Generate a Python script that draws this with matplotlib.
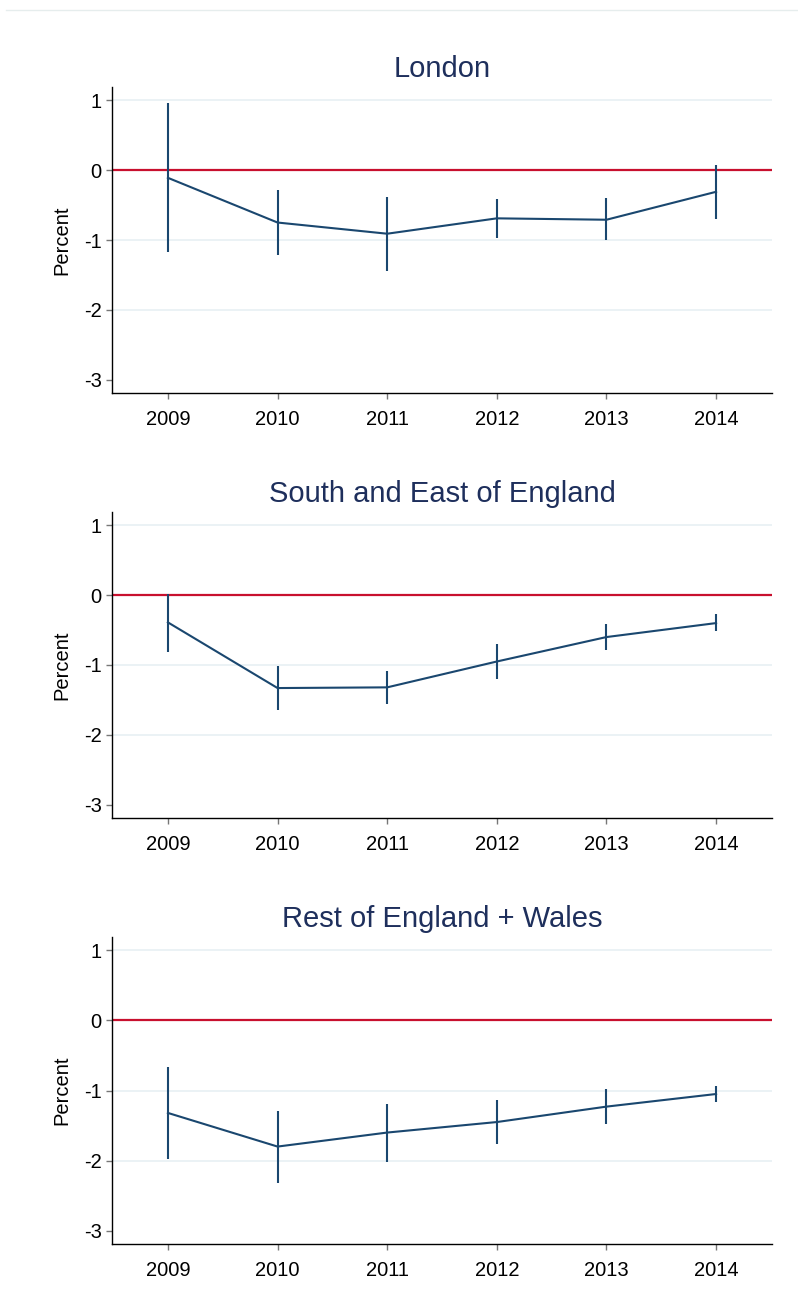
import matplotlib
matplotlib.use("Agg")
import matplotlib.pyplot as plt
from matplotlib.lines import Line2D

plt.rcParams['font.family'] = ['Liberation Sans', 'DejaVu Sans']

years = [2009, 2010, 2011, 2012, 2013, 2014]
regions = ["London", "South and East of England", "Rest of England + Wales"]

london_est = [-0.11, -0.75, -0.91, -0.69, -0.71, -0.31]
london_lo = [-1.17, -1.22, -1.44, -0.97, -1.00, -0.70]
london_hi = [0.96, -0.28, -0.38, -0.41, -0.40, 0.08]

southeast_est = [-0.39, -1.33, -1.32, -0.95, -0.60, -0.40]
southeast_lo = [-0.82, -1.65, -1.56, -1.20, -0.79, -0.52]
southeast_hi = [0.02, -1.02, -1.09, -0.70, -0.41, -0.27]

rest_est = [-1.32, -1.80, -1.60, -1.45, -1.23, -1.05]
rest_lo = [-1.98, -2.32, -2.02, -1.77, -1.48, -1.17]
rest_hi = [-0.67, -1.29, -1.19, -1.13, -0.98, -0.93]

y_ticks = [1, 0, -1, -2, -3]
grid_levels = [1, -1, -2]

series = [
    (london_est, london_lo, london_hi),
    (southeast_est, southeast_lo, southeast_hi),
    (rest_est, rest_lo, rest_hi),
]

W, H = 798, 1315
fig = plt.figure(figsize=(W / 100, H / 100), dpi=100)
fig.patch.set_facecolor("white")

navy = "#1a476f"
title_col = "#1e2f5c"
red = "#c8102e"
grid_col = "#e8f0f3"

# faint outer frame line at the top
fig.add_artist(Line2D([6 / W, 1], [1 - 10 / H, 1 - 10 / H], color="#e6eded", lw=1))

panel_px = [(87, 393), (512, 818), (937, 1244)]
left_px, right_px = 112, 772

for (top, bot), name, (est, lo, hi) in zip(panel_px, regions, series):
    ax = fig.add_axes([left_px / W, 1 - bot / H, (right_px - left_px) / W, (bot - top) / H])
    ax.set_xlim(2008.49, 2014.51)
    ax.set_ylim(-3.19, 1.19)
    for g in grid_levels:
        ax.axhline(g, color=grid_col, lw=1.2, zorder=0)
    ax.axhline(0, color=red, lw=1.6, zorder=1)
    ax.vlines(years, lo, hi, color=navy, lw=1.5, zorder=2)
    ax.plot(years, est, color=navy, lw=1.5, zorder=3)

    ax.set_xticks(years)
    ax.set_xticklabels([str(y) for y in years])
    ax.set_yticks(y_ticks)
    ax.set_yticklabels([str(t) for t in y_ticks])
    ax.tick_params(axis="both", labelsize=14.5, colors="#777777", labelcolor="black",
                   length=4.5, width=1, direction="out")
    ax.tick_params(axis="y", pad=3)
    ax.tick_params(axis="x", pad=8)
    for s in ["top", "right"]:
        ax.spines[s].set_visible(False)
    for s in ["left", "bottom"]:
        ax.spines[s].set_color("black")
        ax.spines[s].set_linewidth(1)
    ax.set_ylabel("Percent", fontsize=14.5, labelpad=9)
    ax.set_title(name, fontsize=21, color=title_col, pad=7)

fig.savefig("out.png", dpi=100, facecolor="white")
